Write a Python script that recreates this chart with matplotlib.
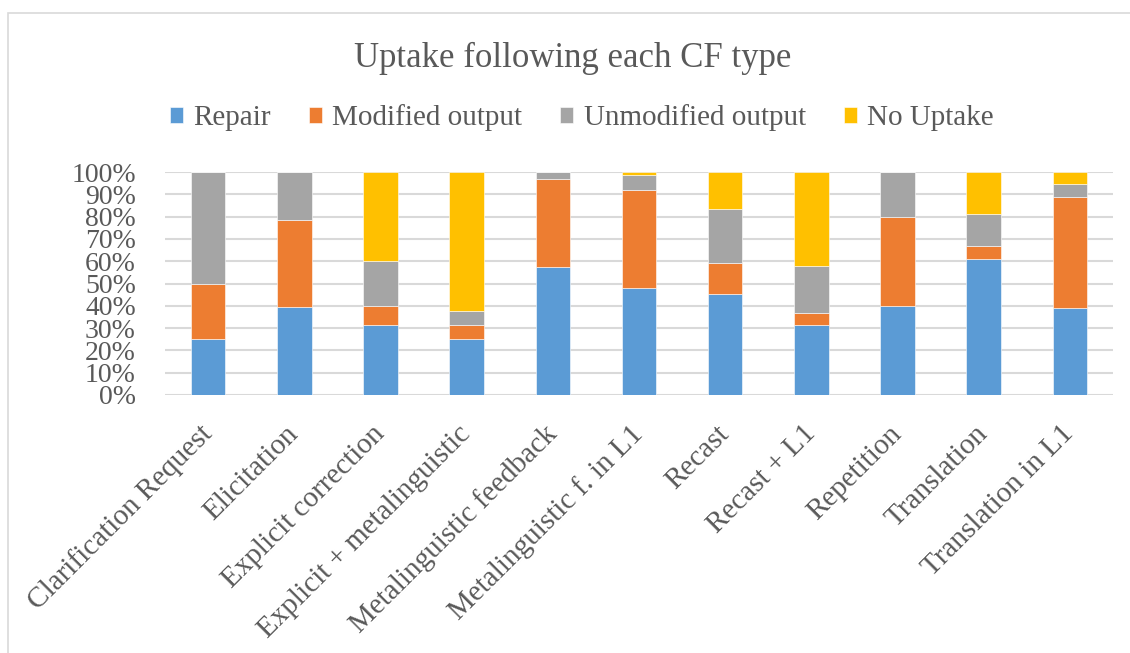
import matplotlib
matplotlib.use("Agg")
import matplotlib.pyplot as plt
from matplotlib.patches import Rectangle
import numpy as np

# uptake shares (%) per corrective feedback type
categories = ["Clarification Request", "Elicitation", "Explicit correction",
              "Explicit + metalinguistic", "Metalinguistic feedback",
              "Metalinguistic f. in L1", "Recast", "Recast + L1",
              "Repetition", "Translation", "Translation in L1"]
repair = [25.0, 39.3, 31.4, 25.0, 57.6, 48.2, 45.4, 31.4, 40.0, 60.9, 38.9]
modified = [25.0, 39.3, 8.6, 6.25, 39.4, 43.9, 14.0, 5.3, 40.0, 6.1, 50.0]
unmodified = [50.0, 21.4, 20.0, 6.25, 3.0, 6.4, 24.0, 21.1, 20.0, 14.3, 5.6]
no_uptake = [0.0, 0.0, 40.0, 62.5, 0.0, 1.5, 16.6, 42.2, 0.0, 18.7, 5.5]

series = [("Repair", repair, "#5B9BD5"),
          ("Modified output", modified, "#ED7D31"),
          ("Unmodified output", unmodified, "#A5A5A5"),
          ("No Uptake", no_uptake, "#FFC000")]

TEXT = "#595959"
GRID = "#D9D9D9"
plt.rcParams["font.family"] = ["Liberation Serif", "DejaVu Serif"]

fig = plt.figure(figsize=(11.3, 6.53), dpi=100)
ax = fig.add_axes([165 / 1130, 1 - 395 / 653, 948 / 1130, 223 / 653])

x = np.arange(len(categories))
bottom = np.zeros(len(categories))
for name, vals, col in series:
    vals = np.array(vals)
    ax.bar(x, vals, 0.4, bottom=bottom, color=col, label=name,
           edgecolor="white", linewidth=0.4, zorder=3)
    bottom += vals

ax.set_xlim(-0.5, len(categories) - 0.5)
ax.set_ylim(0, 100)
ax.set_yticks(np.arange(0, 101, 10))
ax.set_yticklabels([f"{v}%" for v in range(0, 101, 10)])
ax.yaxis.grid(True, color=GRID, linewidth=1.5, zorder=0)
ax.set_axisbelow(True)
for s in ax.spines.values():
    s.set_visible(False)
ax.tick_params(axis="y", length=0, pad=21, labelsize=20, labelcolor=TEXT)
ax.tick_params(axis="x", length=0, pad=25, labelsize=21, labelcolor=TEXT)
ax.set_xticks(x)
ax.set_xticklabels(categories, rotation=45, ha="right",
                   rotation_mode="anchor", va="center")

fig.text(0.507, 1 - 58 / 653, "Uptake following each CF type",
         ha="center", va="center", fontsize=25, color=TEXT)

fig.legend(loc="center", bbox_to_anchor=(0.515, 1 - 118 / 653), ncol=4,
           frameon=False, fontsize=21, labelcolor=TEXT,
           handlelength=0.45, handleheight=0.45, handletextpad=0.35,
           columnspacing=1.3)

# light chart-area border
fig.patches.append(Rectangle((8 / 1130, -0.01), 1.0, 1 - 13 / 653 + 0.01,
                             transform=fig.transFigure, fill=False,
                             edgecolor=GRID, linewidth=1.2))

fig.savefig("out.png", dpi=100)
